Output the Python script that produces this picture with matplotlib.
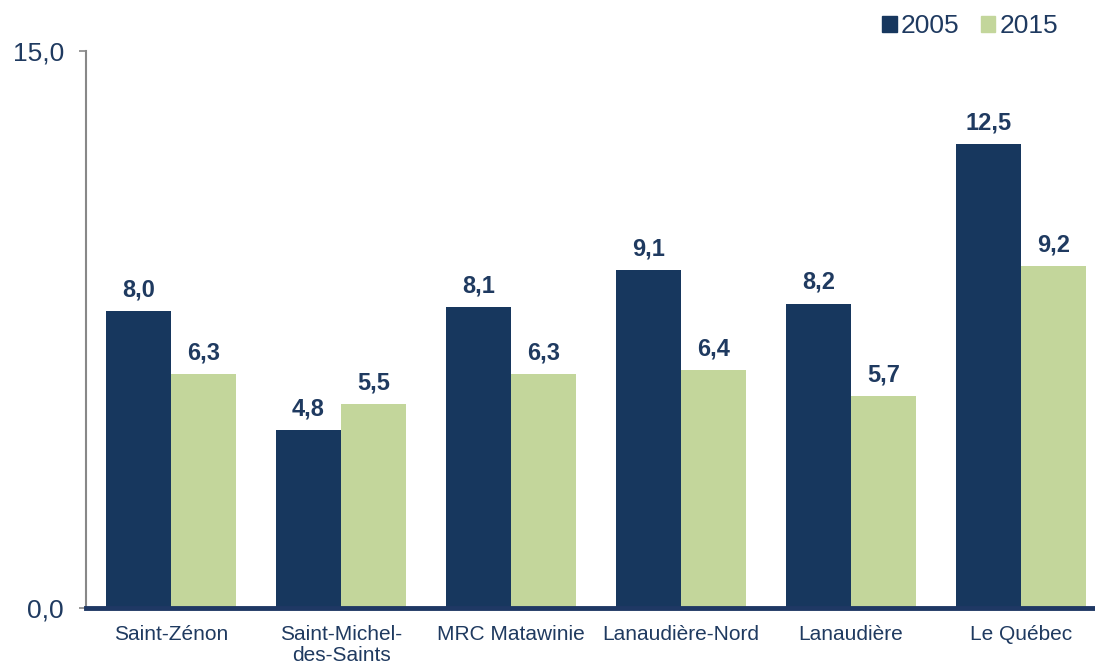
import matplotlib
matplotlib.use("Agg")
import matplotlib.pyplot as plt
import numpy as np
from matplotlib.patches import Patch

plt.rcParams['font.family'] = ['Liberation Sans', 'DejaVu Sans']

categories = ["Saint-Zénon", "Saint-Michel-\ndes-Saints", "MRC Matawinie",
              "Lanaudière-Nord", "Lanaudière", "Le Québec"]
series_names = ["2005", "2015"]
values_2005 = [8.0, 4.8, 8.1, 9.1, 8.2, 12.5]
values_2015 = [6.3, 5.5, 6.3, 6.4, 5.7, 9.2]
yticks = [0.0, 15.0]

navy = "#17375e"
green = "#c3d69b"
text_col = "#1f3a60"

fig = plt.figure(figsize=(10.95, 6.66), dpi=100)
ax = fig.add_axes([86/1095, 1-608/666, 1-86/1095, (608-51)/666])

x = np.arange(len(categories))
w = 65/170
b1 = ax.bar(x - w/2, values_2005, w, color=navy, label=series_names[0], zorder=2)
b2 = ax.bar(x + w/2, values_2015, w, color=green, label=series_names[1], zorder=2)

def fmt(v):
    return f"{v:.1f}".replace(".", ",")

for bars, vals in ((b1, values_2005), (b2, values_2015)):
    for r, v in zip(bars, vals):
        ax.annotate(fmt(v), (r.get_x() + r.get_width()/2, v), xytext=(0, 7),
                    textcoords="offset points", ha="center", va="bottom",
                    fontsize=17, fontweight="bold", color=text_col)

ax.set_xlim(-0.5, 5.435)
ax.set_ylim(0, 15)
ax.set_yticks(yticks)
ax.set_yticklabels([fmt(t) for t in yticks], fontsize=19, color=text_col)
ax.set_xticks(x)
ax.set_xticklabels(categories, fontsize=15, color=text_col, linespacing=1.15)
ax.tick_params(axis='x', length=0, pad=12)
ax.tick_params(axis='y', length=5, width=1.2, color="#888888", pad=11)

for s in ("top", "right"):
    ax.spines[s].set_visible(False)
ax.spines["left"].set_color("#888888")
ax.spines["left"].set_linewidth(1.5)
ax.spines["bottom"].set_color("#1f3864")
ax.spines["bottom"].set_linewidth(3.5)
ax.spines["bottom"].set_zorder(3)

handles = [Patch(color=navy), Patch(color=green)]
fig.legend(handles, series_names, loc="center right", bbox_to_anchor=(0.966, 0.961),
           ncol=2, frameon=False, fontsize=19, handlelength=0.55, handleheight=0.55,
           handletextpad=0.15, columnspacing=0.8, labelcolor=text_col,
           borderpad=0, borderaxespad=0)

fig.savefig("out.png", dpi=100)
